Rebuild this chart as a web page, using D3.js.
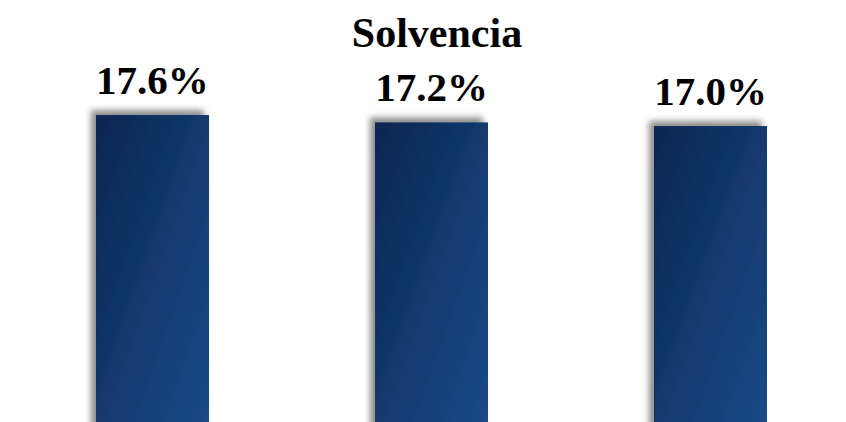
<!DOCTYPE html>
<html>
<head>
<meta charset="utf-8">
<script src="https://cdn.jsdelivr.net/npm/d3@7"></script>
<style>
  body { margin: 0; background: #fff; }
  svg { display: block; }
  .label, .title { font-family: 'Liberation Serif', 'Times New Roman', serif; font-weight: bold; fill: #000; }
</style>
</head>
<body>
<div id="chart"></div>
<script>
'use strict';
var categories = ['a', 'b', 'c'];
var values = [17.6, 17.2, 17.0];
var labels = ['17.6%', '17.2%', '17.0%'];
var titleText = 'Solvencia';

var width = 846, height = 422;

var svg = d3.select('#chart').append('svg')
  .attr('width', width)
  .attr('height', height);

var defs = svg.append('defs');

var grad = defs.append('linearGradient')
  .attr('id', 'barGrad')
  .attr('x1', 0).attr('y1', 0)
  .attr('x2', 1).attr('y2', 1);
grad.append('stop').attr('offset', '0%').attr('stop-color', '#0a2652');
grad.append('stop').attr('offset', '100%').attr('stop-color', '#1b4c89');

var filter = defs.append('filter')
  .attr('id', 'shadow')
  .attr('x', '-30%').attr('y', '-30%')
  .attr('width', '160%').attr('height', '160%');
filter.append('feDropShadow')
  .attr('dx', -5)
  .attr('dy', -5)
  .attr('stdDeviation', 3)
  .attr('flood-color', '#000')
  .attr('flood-opacity', 0.45);

var x = d3.scaleBand()
  .domain(categories)
  .range([96, 767])
  .paddingInner(0.595)
  .paddingOuter(0);

var y = d3.scaleLinear()
  .domain([0, 20])
  .range([438, 71]);

svg.selectAll('.bar')
  .data(values)
  .enter().append('rect')
  .attr('class', 'bar')
  .attr('x', function(d, i) { return x(categories[i]); })
  .attr('width', x.bandwidth())
  .attr('y', function(d) { return y(d); })
  .attr('height', function(d) { return y(0) - y(d); })
  .attr('fill', 'url(#barGrad)')
  .attr('filter', 'url(#shadow)');

svg.selectAll('.label')
  .data(values)
  .enter().append('text')
  .attr('class', 'label')
  .attr('x', function(d, i) { return x(categories[i]) + x.bandwidth() / 2; })
  .attr('y', function(d) { return y(d) - 21; })
  .attr('text-anchor', 'middle')
  .style('font-size', '41px')
  .text(function(d, i) { return labels[i]; });

svg.append('text')
  .attr('class', 'title')
  .attr('x', 437)
  .attr('y', 47)
  .attr('text-anchor', 'middle')
  .style('font-size', '42px')
  .text(titleText);
</script>
</body>
</html>
